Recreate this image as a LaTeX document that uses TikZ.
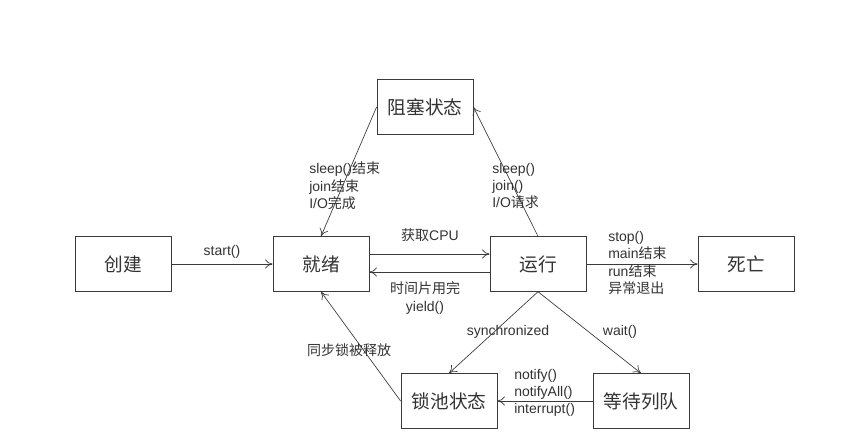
\documentclass[tikz,border=0pt]{standalone}
\usepackage{fontspec}
\setmainfont{Liberation Sans}
\newfontfamily\cjk{Noto Sans CJK SC}
\usetikzlibrary{arrows.meta}
\definecolor{linec}{HTML}{3A3A3A}
\definecolor{textc}{HTML}{333333}
\tikzset{
  ar/.style={-{To[length=2mm,width=2.4mm]},line width=0.5pt,linec},
  box/.style={draw=linec,line width=0.6pt,minimum width=72pt,minimum height=41pt,inner sep=0pt,text=textc,font=\cjk\fontsize{14}{16}\selectfont},
  lbl/.style={font=\fontsize{10.5}{13}\selectfont,align=left,inner sep=0pt,text=textc}
}

\begin{document}
\begin{tikzpicture}[x=0.75pt,y=-0.75pt]
\fill[white] (0,0) rectangle (853,441);
\useasboundingbox (0,0) rectangle (853,441);
% states
\node[box] (zs) at (425,107) {阻塞状态};
\node[box] (cj) at (123,264) {创建};
\node[box] (jx) at (321,264) {就绪};
\node[box] (yx) at (538,264) {运行};
\node[box] (sw) at (746,264) {死亡};
\node[box] (sc) at (449,401) {锁池状态};
\node[box] (dd) at (641,401) {等待列队};
% transitions
\draw[ar] (cj.east) -- (jx.west);
\draw[ar] (zs.west) -- (jx.north);
\draw[ar] (yx.north) -- (zs.east);
\draw[ar] ([yshift=7.5pt]jx.east) -- ([yshift=7.5pt]yx.west);
\draw[ar] ([yshift=-6pt]yx.west) -- ([yshift=-6pt]jx.east);
\draw[ar] (yx.east) -- (sw.west);
\draw[ar] (yx.south) -- (sc.north);
\draw[ar] (yx.south) -- (dd.north);
\draw[ar] (dd.west) -- (sc.east);
\draw[ar] (sc.west) -- (jx.south);
% labels
\node[lbl] (l1) at (222,252) {start()};
\node[lbl] (l2) at (430,235) {{\cjk 获取}CPU};
\node[lbl,align=center] (l3) at (425,298) {{\cjk 时间片用完}\\yield()};
\node[lbl,anchor=west] (l4) at (608,263) {stop()\\main{\cjk 结束}\\run{\cjk 结束}\\{\cjk 异常退出}};
\node[lbl,anchor=west] (l5) at (309,186) {sleep(){\cjk 结束}\\join{\cjk 结束}\\I/O{\cjk 完成}};
\node[lbl,anchor=west] (l6) at (492,186) {sleep()\\join()\\I/O{\cjk 请求}};
\node[lbl] (l7) at (508,332) {synchronized};
\node[lbl] (l8) at (620,332) {wait()};
\node[lbl] (l9) at (349,350) {\cjk 同步锁被释放};
\node[lbl,anchor=west] (l10) at (514,393) {notify()\\notifyAll()\\interrupt()};
\end{tikzpicture}
\end{document}
